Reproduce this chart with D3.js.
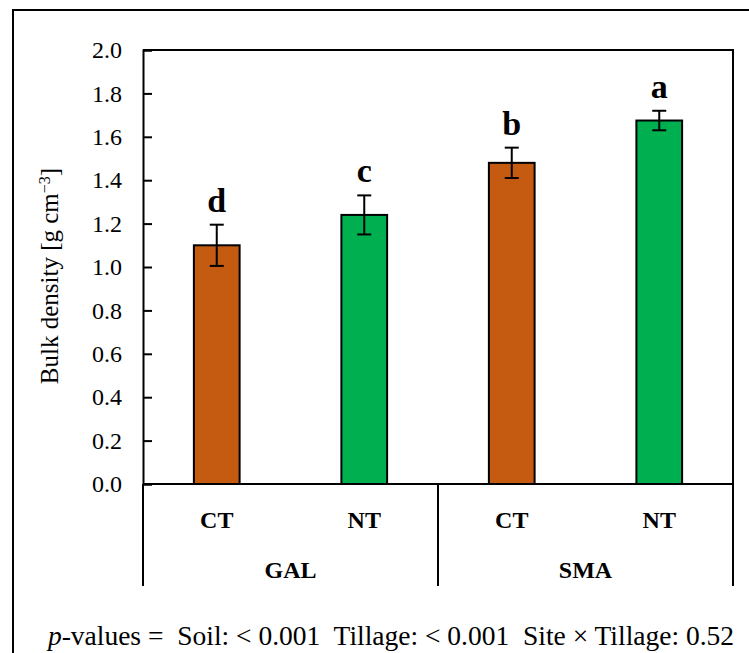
<!DOCTYPE html>
<html lang="en">
<head>
    <meta charset="UTF-8">
    <title>Bulk density</title>
    <script src="https://d3js.org/d3.v7.min.js"></script>
    <style>
        body { margin: 0; padding: 0; background: #fff; }
        svg { display: block; font-family: "Liberation Serif", "DejaVu Serif", serif; }
    </style>
</head>
<body>
    <svg id="chart" width="749" height="653"></svg>
    <script>
        // data
        const sites = ["GAL", "SMA"];
        const tillages = ["CT", "NT"];
        const means = [1.10, 1.24, 1.48, 1.675];
        const errors = [0.095, 0.09, 0.07, 0.045];
        const letters = ["d", "c", "b", "a"];
        const yTicks = [0, 0.2, 0.4, 0.6, 0.8, 1.0, 1.2, 1.4, 1.6, 1.8, 2.0];
        const colors = { CT: "#C55A11", NT: "#00B050" };

        const rows = [];
        sites.forEach(s => tillages.forEach(t => rows.push({ site: s, till: t })));
        rows.forEach((d, i) => {
            d.key = d.site + "-" + d.till;
            d.mean = means[i];
            d.err = errors[i];
            d.letter = letters[i];
        });

        const svg = d3.select("#chart");
        const plotLeft = 143, plotRight = 733, plotTop = 50, plotBottom = 484;

        // outer frame
        svg.append("rect")
            .attr("x", 13).attr("y", 10)
            .attr("width", 760).attr("height", 670)
            .attr("fill", "none").attr("stroke", "#000").attr("stroke-width", 2);

        const x = d3.scaleBand()
            .domain(rows.map(d => d.key))
            .range([plotLeft, plotRight]);

        const y = d3.scaleLinear()
            .domain([0, 2])
            .range([plotBottom, plotTop]);

        // plot box (top and right edges)
        svg.append("path")
            .attr("d", `M${plotLeft},${plotTop}H${plotRight}V${plotBottom}`)
            .attr("fill", "none").attr("stroke", "#000").attr("stroke-width", 2);

        // y axis with inward ticks
        const yAxis = svg.append("g")
            .attr("transform", `translate(${plotLeft},0)`)
            .call(d3.axisRight(y).tickValues(yTicks).tickSize(9).tickFormat(d3.format(".1f")));
        yAxis.select(".domain").attr("stroke-width", 2);
        yAxis.selectAll(".tick line").attr("stroke-width", 2);
        yAxis.selectAll(".tick text")
            .attr("x", -21)
            .attr("text-anchor", "end")
            .attr("font-size", 24)
            .attr("font-family", "Liberation Serif");

        // y title
        const yt = svg.append("text")
            .attr("transform", "translate(58,276) rotate(-90)")
            .attr("text-anchor", "middle")
            .attr("font-size", 25)
            .text("Bulk density [g cm");
        yt.append("tspan").attr("baseline-shift", "super").attr("font-size", 16).text("\u22123");
        yt.append("tspan").text("]");

        const bw = x.bandwidth() * 0.31;

        // bars
        svg.selectAll(".bar")
            .data(rows)
            .join("rect")
            .attr("class", "bar")
            .attr("x", d => x(d.key) + (x.bandwidth() - bw) / 2)
            .attr("width", bw)
            .attr("y", d => y(d.mean))
            .attr("height", d => y(0) - y(d.mean))
            .attr("fill", d => colors[d.till])
            .attr("stroke", "#000")
            .attr("stroke-width", 2);

        // error bars
        const eb = svg.selectAll(".err").data(rows).join("g").attr("class", "err")
            .attr("stroke", "#000").attr("stroke-width", 2);
        const cx = d => x(d.key) + x.bandwidth() / 2;
        eb.append("line").attr("x1", cx).attr("x2", cx)
            .attr("y1", d => y(d.mean + d.err)).attr("y2", d => y(d.mean - d.err));
        eb.append("line").attr("x1", d => cx(d) - 7).attr("x2", d => cx(d) + 7)
            .attr("y1", d => y(d.mean + d.err)).attr("y2", d => y(d.mean + d.err));
        eb.append("line").attr("x1", d => cx(d) - 7).attr("x2", d => cx(d) + 7)
            .attr("y1", d => y(d.mean - d.err)).attr("y2", d => y(d.mean - d.err));

        // significance letters
        svg.selectAll(".letter").data(rows).join("text")
            .attr("class", "letter")
            .attr("x", cx)
            .attr("y", d => y(d.mean + d.err) - 13)
            .attr("text-anchor", "middle")
            .attr("font-size", 34)
            .attr("font-weight", "bold")
            .text(d => d.letter);

        // x axis line
        svg.append("line")
            .attr("x1", plotLeft).attr("x2", plotRight)
            .attr("y1", plotBottom).attr("y2", plotBottom)
            .attr("stroke", "#000").attr("stroke-width", 2);

        // category labels
        svg.selectAll(".till").data(rows).join("text")
            .attr("class", "till")
            .attr("x", cx)
            .attr("y", 528)
            .attr("text-anchor", "middle")
            .attr("font-size", 24)
            .attr("font-weight", "bold")
            .text(d => d.till);

        sites.forEach((s, i) => {
            const x0 = x(s + "-" + tillages[0]);
            const x1 = x(s + "-" + tillages[tillages.length - 1]) + x.bandwidth();
            svg.append("text")
                .attr("x", (x0 + x1) / 2)
                .attr("y", 578)
                .attr("text-anchor", "middle")
                .attr("font-size", 24)
                .attr("font-weight", "bold")
                .text(s);
        });

        // group separators
        const seps = [plotLeft, x(sites[1] + "-" + tillages[0]), plotRight];
        svg.selectAll(".sep").data(seps).join("line")
            .attr("class", "sep")
            .attr("x1", d => d).attr("x2", d => d)
            .attr("y1", plotBottom).attr("y2", 586)
            .attr("stroke", "#000").attr("stroke-width", 2);

        // p-values note
        const pv = svg.append("text")
            .attr("x", 391)
            .attr("y", 645)
            .attr("text-anchor", "middle")
            .attr("font-size", 27.5)
            .style("white-space", "pre");
        pv.append("tspan").attr("font-style", "italic").text("p");
        pv.append("tspan").text("-values =  Soil: < 0.001  Tillage: < 0.001  Site \u00d7 Tillage: 0.52");
    </script>
</body>
</html>
